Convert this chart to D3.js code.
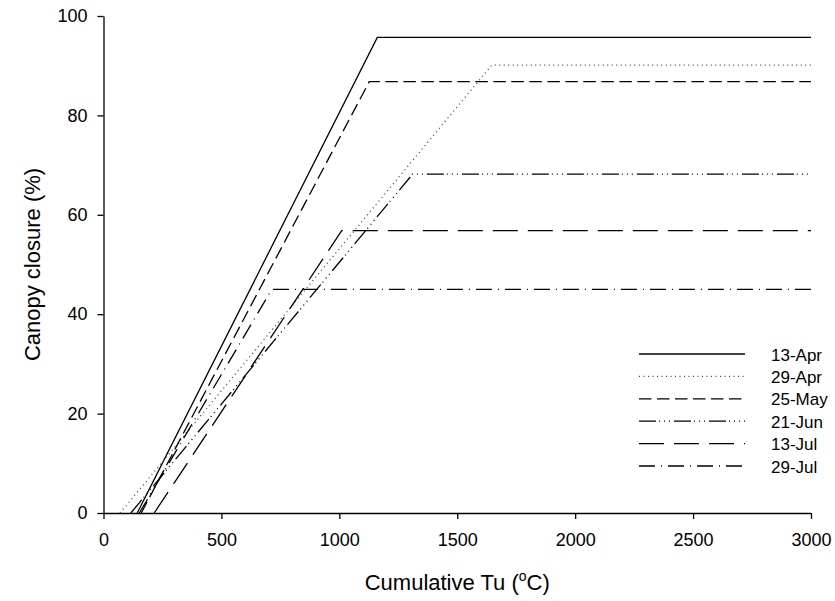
<!DOCTYPE html>
<html>
<head>
<meta charset="utf-8">
<script src="https://cdn.jsdelivr.net/npm/d3@7"></script>
<style>
  html, body { margin: 0; padding: 0; background: #fff; }
  svg { display: block; font-family: "Liberation Sans", Arial, sans-serif; }
</style>
</head>
<body>
<svg id="chart" width="835" height="601"></svg>
<script>
// Sowing dates and the fitted canopy-closure response to cumulative thermal units
const dates = ["13-Apr", "29-Apr", "25-May", "21-Jun", "13-Jul", "29-Jul"];
// Tu at which canopy closure starts to rise (x-intercept)
const baseTu = [143, 70, 160, 116, 215, 152];
// Tu at which the maximum closure is reached
const breakTu = [1161, 1646, 1127, 1311, 1010, 714];
// Maximum canopy closure (%)
const maxClosure = [95.7, 90.1, 86.8, 68.2, 56.8, 45.0];
const endTu = 3000;

const xTicks = [0, 500, 1000, 1500, 2000, 2500, 3000];
const yTicks = [0, 20, 40, 60, 80, 100];

// Line styles per sowing date
const dashes = [null, "1,3.5", "12.5,5.5", "17,3,1,4,1,4,1,4", "25,10", "16,6,1,6"];
const colors = ["#000", "#444", "#000", "#000", "#000", "#000"];

const svg = d3.select("#chart");
const plotLeft = 103.5, plotRight = 811, plotTop = 16, plotBottom = 513;

const x = d3.scaleLinear().domain([0, 3000]).range([plotLeft, plotRight]);
const y = d3.scaleLinear().domain([0, 100]).range([plotBottom, plotTop]);

// Series lines
const line = d3.line().x(d => x(d[0])).y(d => y(d[1]));
const series = dates.map((d, i) => ({
  name: d,
  pts: [[baseTu[i], 0], [breakTu[i], maxClosure[i]], [endTu, maxClosure[i]]]
}));

svg.append("g").selectAll("path").data(series).join("path")
  .attr("d", d => line(d.pts))
  .attr("fill", "none")
  .attr("stroke", (d, i) => colors[i])
  .attr("stroke-width", 1.3)
  .attr("stroke-dasharray", (d, i) => dashes[i]);

// Axes
const xAxis = svg.append("g")
  .attr("transform", `translate(0,${plotBottom})`)
  .call(d3.axisBottom(x).tickValues(xTicks).tickSize(6).tickPadding(14).tickSizeOuter(0).tickFormat(d3.format("d")));
const yAxis = svg.append("g")
  .attr("transform", `translate(${plotLeft},0)`)
  .call(d3.axisLeft(y).tickValues(yTicks).tickSize(6).tickPadding(10).tickSizeOuter(0).tickFormat(d3.format("d")));

[xAxis, yAxis].forEach(g => {
  g.select(".domain").attr("stroke", "#000").attr("stroke-width", 1.3);
  g.selectAll(".tick line").attr("stroke", "#000").attr("stroke-width", 1.3);
  g.selectAll(".tick text").attr("fill", "#000")
    .style("font-size", "18px").style("font-family", "'Liberation Sans', Arial, sans-serif");
});

// Axis titles
const xt = svg.append("text")
  .attr("x", (plotLeft + plotRight) / 2).attr("y", 590)
  .attr("text-anchor", "middle")
  .style("font-size", "22px").attr("fill", "#000");
xt.append("tspan").text("Cumulative Tu (");
xt.append("tspan").text("o").attr("dy", -9).style("font-size", "14px");
xt.append("tspan").text("C)").attr("dy", 9);

svg.append("text")
  .attr("transform", `translate(40,${(plotTop + plotBottom) / 2}) rotate(-90)`)
  .attr("text-anchor", "middle")
  .style("font-size", "22px").attr("fill", "#000")
  .text("Canopy closure (%)");

// Legend
const legend = svg.append("g");
const legY0 = 354, legStep = 22.4;
const rows = legend.selectAll("g").data(series).join("g")
  .attr("transform", (d, i) => `translate(0,${legY0 + i * legStep})`);
rows.append("line")
  .attr("x1", 639).attr("x2", 745).attr("y1", 0).attr("y2", 0)
  .attr("stroke", (d, i) => colors[i])
  .attr("stroke-width", 1.3)
  .attr("stroke-dasharray", (d, i) => dashes[i]);
rows.append("text")
  .attr("x", 771).attr("y", 6.5)
  .style("font-size", "17px").attr("fill", "#000")
  .text(d => d.name);
</script>
</body>
</html>
